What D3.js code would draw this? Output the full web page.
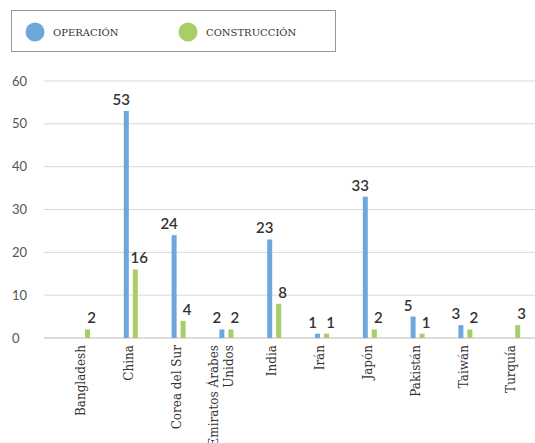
<!DOCTYPE html>
<html>
<head>
<meta charset="utf-8">
<script src="https://cdn.jsdelivr.net/npm/d3@7"></script>
<style>
  body { margin: 0; background: #fff; }
  svg { display: block; }
</style>
</head>
<body>
<svg id="chart" width="535" height="443"></svg>
<script>
// datos
const paises = ['Bangladesh', 'China', 'Corea del Sur', 'Emiratos Árabes Unidos', 'India',
  'Irán', 'Japón', 'Pakistán', 'Taiwán', 'Turquía'];
const operacion = [0, 53, 24, 2, 23, 1, 33, 5, 3, 0];
const construccion = [2, 16, 4, 2, 8, 1, 2, 1, 2, 3];
const yTicks = [0, 10, 20, 30, 40, 50, 60];
const series = ['OPERACIÓN', 'CONSTRUCCIÓN'];
const colores = ['#6fa7dc', '#a9cd69'];

const width = 535;
const height = 443;
const margin = { top: 81, right: 0, bottom: 105, left: 44 };

const svg = d3.select('#chart');

const x0 = d3.scaleBand()
  .domain(paises)
  .range([59, 537]);

const x1 = d3.scaleBand()
  .domain(series)
  .range([17, 31])
  .paddingInner(0.444);

const y = d3.scaleLinear()
  .domain([0, 60])
  .range([height - margin.bottom, margin.top]);

// gridlines
svg.append('g')
  .selectAll('line')
  .data(yTicks)
  .enter()
  .append('line')
  .attr('x1', margin.left)
  .attr('x2', width)
  .attr('y1', (d) => y(d))
  .attr('y2', (d) => y(d))
  .attr('stroke', (d) => d === 0 ? '#bbb' : '#d9d9d9')
  .attr('stroke-width', 1);

// y labels
svg.append('g')
  .selectAll('text')
  .data(yTicks)
  .enter()
  .append('text')
  .attr('x', 12)
  .attr('y', (d) => y(d))
  .attr('dy', '0.35em')
  .style('font-family', 'Lato, sans-serif')
  .style('font-size', '13px')
  .style('fill', '#555')
  .text((d) => d);

// table for bars
const filas = paises.map((p, i) => ({
  pais: p,
  valores: [
    { serie: series[0], v: operacion[i], c: colores[0], off: -5 },
    { serie: series[1], v: construccion[i], c: colores[1], off: 4 },
  ],
}));

const grupos = svg.append('g')
  .selectAll('g')
  .data(filas)
  .enter()
  .append('g')
  .attr('transform', (d) => `translate(${x0(d.pais)},0)`);

grupos.selectAll('rect')
  .data((d) => d.valores.filter((v) => v.v > 0))
  .enter()
  .append('rect')
  .attr('x', (d) => x1(d.serie))
  .attr('y', (d) => y(d.v))
  .attr('width', x1.bandwidth())
  .attr('height', (d) => y(0) - y(d.v))
  .attr('fill', (d) => d.c);

grupos.selectAll('text')
  .data((d) => d.valores.filter((v) => v.v > 0))
  .enter()
  .append('text')
  .attr('x', (d) => x1(d.serie) + x1.bandwidth() / 2 + d.off)
  .attr('y', (d) => y(d.v) - 6)
  .attr('text-anchor', 'middle')
  .style('font-family', 'Lato, sans-serif')
  .style('font-size', '15px')
  .style('font-weight', '600')
  .style('fill', '#333')
  .text((d) => d.v);

// x axis labels
const xAxis = d3.axisBottom(x0).tickSize(0);
const ejeX = svg.append('g')
  .attr('transform', `translate(0,${y(0)})`)
  .call(xAxis);
ejeX.select('.domain').remove();

ejeX.selectAll('text')
  .attr('transform', 'rotate(-90)')
  .attr('x', -7)
  .attr('y', -2)
  .attr('dy', '0.35em')
  .style('text-anchor', 'end')
  .style('font-family', '"DejaVu Serif", serif')
  .style('font-size', '12px')
  .style('fill', '#333')
  .each(function (d) {
    if (d === 'Emiratos Árabes Unidos') {
      const t = d3.select(this).text(null);
      t.append('tspan').attr('x', -7).attr('dy', '-0.55em').text('Emiratos Árabes');
      t.append('tspan').attr('x', -7).attr('dy', '1.3em').text('Unidos');
    }
  });

// legend
const leyenda = svg.append('g');
leyenda.append('rect')
  .attr('x', 11.5)
  .attr('y', 10.5)
  .attr('width', 324)
  .attr('height', 41)
  .attr('fill', '#fff')
  .attr('stroke', '#999');

const itemX = [35, 188];
series.forEach((s, i) => {
  leyenda.append('circle')
    .attr('cx', itemX[i])
    .attr('cy', 32)
    .attr('r', 9.5)
    .attr('fill', colores[i]);
  leyenda.append('text')
    .attr('x', itemX[i] + 18)
    .attr('y', 32)
    .attr('dy', '0.35em')
    .style('font-family', '"DejaVu Serif", serif')
    .style('font-size', '10px')
    .style('fill', '#333')
    .text(s);
});
</script>
</body>
</html>
